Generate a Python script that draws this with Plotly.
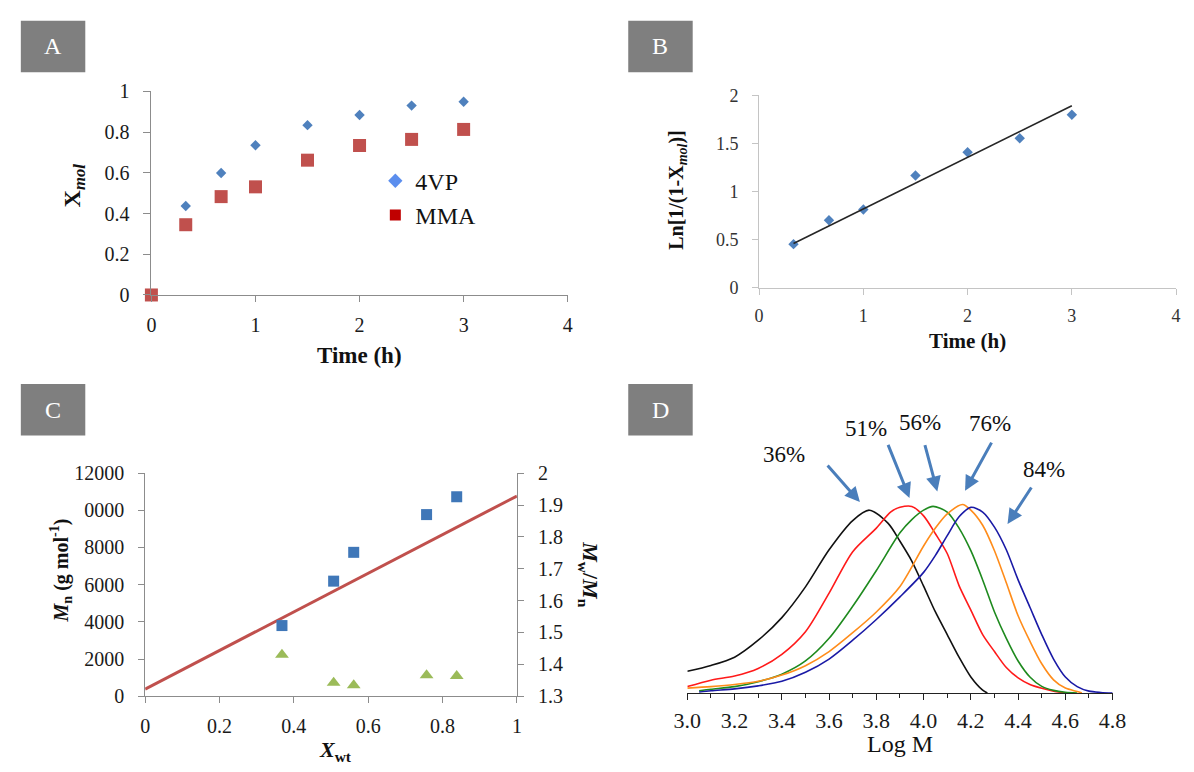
import plotly.graph_objects as go

W, H = 1194, 772
FONT = "Liberation Serif"

# ---------------- Panel A data ----------------
time_a = [0, 0.33, 0.67, 1.0, 1.5, 2.0, 2.5, 3.0]
x4vp = [0, 0.437, 0.599, 0.735, 0.834, 0.884, 0.930, 0.949]
xmma = [0, 0.345, 0.483, 0.531, 0.662, 0.734, 0.764, 0.813]

# ---------------- Panel B data ----------------
time_b = [0.33, 0.67, 1.0, 1.5, 2.0, 2.5, 3.0]
ln_b = [0.454, 0.702, 0.814, 1.166, 1.408, 1.553, 1.798]
fit_b_x = [0.33, 3.0]
fit_b_y = [0.46, 1.89]

# ---------------- Panel C data ----------------
xwt = [0.368, 0.507, 0.561, 0.757, 0.838]
mn = [3800, 6190, 7740, 9770, 10730]
pdi = [1.430, 1.342, 1.334, 1.366, 1.363]
fit_c_x = [0, 1]
fit_c_y = [380, 10770]
mn_ticks = [0, 2000, 4000, 6000, 8000, 10000, 12000]
mn_ticktext = ["0", "2000", "4000", "6000", "8000", "0000", "12000"]

# ---------------- Panel D data (GPC traces) ----------------
black_x = [3.00, 3.10, 3.20, 3.30, 3.40, 3.50, 3.60, 3.70, 3.77, 3.85, 3.90, 3.95, 4.00, 4.05, 4.10, 4.15, 4.20, 4.25, 4.27]
black_y = [0.115, 0.146, 0.19, 0.28, 0.40, 0.563, 0.76, 0.915, 0.97, 0.90, 0.805, 0.70, 0.567, 0.43, 0.31, 0.19, 0.085, 0.015, 0.0]
red_x = [3.00, 3.10, 3.20, 3.30, 3.40, 3.50, 3.60, 3.70, 3.80, 3.86, 3.90, 3.95, 4.00, 4.05, 4.10, 4.15, 4.20, 4.25, 4.30, 4.35, 4.40, 4.45, 4.50, 4.55, 4.60]
red_y = [0.034, 0.068, 0.09, 0.13, 0.205, 0.325, 0.53, 0.75, 0.875, 0.96, 0.985, 0.99, 0.94, 0.845, 0.74, 0.57, 0.44, 0.31, 0.22, 0.135, 0.08, 0.045, 0.025, 0.01, 0.0]
green_x = [3.05, 3.10, 3.20, 3.30, 3.40, 3.50, 3.60, 3.70, 3.80, 3.90, 3.95, 4.00, 4.04, 4.10, 4.15, 4.20, 4.25, 4.30, 4.35, 4.40, 4.45, 4.50, 4.55, 4.60, 4.65]
green_y = [0.012, 0.02, 0.034, 0.06, 0.10, 0.17, 0.29, 0.46, 0.65, 0.85, 0.92, 0.97, 0.99, 0.96, 0.875, 0.755, 0.60, 0.43, 0.29, 0.17, 0.085, 0.035, 0.014, 0.004, 0.0]
orange_x = [3.00, 3.10, 3.20, 3.30, 3.40, 3.50, 3.60, 3.70, 3.80, 3.90, 4.00, 4.05, 4.10, 4.165, 4.20, 4.25, 4.30, 4.35, 4.40, 4.45, 4.50, 4.55, 4.60, 4.65, 4.67]
orange_y = [0.026, 0.034, 0.045, 0.062, 0.095, 0.145, 0.22, 0.32, 0.43, 0.565, 0.78, 0.875, 0.95, 1.0, 0.97, 0.89, 0.755, 0.585, 0.41, 0.275, 0.155, 0.07, 0.026, 0.008, 0.0]
blue_x = [3.05, 3.10, 3.20, 3.30, 3.40, 3.50, 3.60, 3.70, 3.80, 3.90, 4.00, 4.05, 4.10, 4.15, 4.20, 4.25, 4.30, 4.35, 4.40, 4.45, 4.50, 4.55, 4.60, 4.65, 4.70, 4.75, 4.80]
blue_y = [0.005, 0.012, 0.022, 0.038, 0.062, 0.11, 0.18, 0.28, 0.39, 0.51, 0.64, 0.73, 0.835, 0.935, 0.985, 0.96, 0.88, 0.76, 0.60, 0.455, 0.31, 0.18, 0.085, 0.034, 0.01, 0.003, 0.0]
conv_labels = ["36%", "51%", "56%", "76%", "84%"]
logm_ticks = [3.0, 3.2, 3.4, 3.6, 3.8, 4.0, 4.2, 4.4, 4.6, 4.8]


def px(x):
    return x / W


def py(y):
    return 1 - y / H


fig = go.Figure()

# Panel A
fig.add_trace(go.Scatter(x=time_a, y=x4vp, mode="markers", showlegend=False, cliponaxis=False,
                         marker=dict(symbol="diamond", size=8, color="#4F81BD"), xaxis="x", yaxis="y"))
fig.add_trace(go.Scatter(x=time_a, y=xmma, mode="markers", showlegend=False, cliponaxis=False,
                         marker=dict(symbol="square", size=13, color="#C0504D"), xaxis="x", yaxis="y"))
fig.add_trace(go.Scatter(x=[None], y=[None], mode="markers", name="4VP",
                         marker=dict(symbol="diamond", size=11, color="#5B8EEE"), xaxis="x", yaxis="y"))
fig.add_trace(go.Scatter(x=[None], y=[None], mode="markers", name="MMA",
                         marker=dict(symbol="square", size=11, color="#C00000"), xaxis="x", yaxis="y"))

# Panel B
fig.add_trace(go.Scatter(x=time_b, y=ln_b, mode="markers", showlegend=False, cliponaxis=False,
                         marker=dict(symbol="diamond", size=8, color="#4F81BD"), xaxis="x2", yaxis="y2"))
fig.add_trace(go.Scatter(x=fit_b_x, y=fit_b_y, mode="lines", showlegend=False,
                         line=dict(color="#262626", width=1.6), xaxis="x2", yaxis="y2"))

# Panel C
fig.add_trace(go.Scatter(x=fit_c_x, y=fit_c_y, mode="lines", showlegend=False,
                         line=dict(color="#C0504D", width=3), xaxis="x3", yaxis="y3"))
fig.add_trace(go.Scatter(x=xwt, y=mn, mode="markers", showlegend=False, cliponaxis=False,
                         marker=dict(symbol="square", size=11, color="#3F77B8"), xaxis="x3", yaxis="y3"))
fig.add_trace(go.Scatter(x=xwt, y=pdi, mode="markers", showlegend=False, cliponaxis=False,
                         marker=dict(symbol="triangle-up", size=12, color="#9BBB59"), xaxis="x3", yaxis="y4"))

# Panel D
for xs, ys, col in [(black_x, black_y, "#111111"), (red_x, red_y, "#FF1A1A"),
                    (green_x, green_y, "#1E8A1E"), (orange_x, orange_y, "#FF8C1A"),
                    (blue_x, blue_y, "#1A1AA6")]:
    fig.add_trace(go.Scatter(x=xs, y=ys, mode="lines", showlegend=False,
                             line=dict(color=col, width=1.6, shape="spline", smoothing=0.8),
                             xaxis="x5", yaxis="y5"))

tickfont_a = dict(family=FONT, size=20, color="#1a1a1a")
gray = "#8C8C8C"

layout = dict(
    width=W, height=H, autosize=False,
    margin=dict(l=0, r=0, t=0, b=0),
    paper_bgcolor="white", plot_bgcolor="rgba(0,0,0,0)",
    font=dict(family=FONT, color="#1a1a1a"),
    # Panel A
    xaxis=dict(domain=[px(140.7), px(567)], range=[0, 4], dtick=1, showline=True, linecolor=gray,
               ticks="outside", ticklen=6, tickcolor=gray, showgrid=False, zeroline=False,
               tickfont=tickfont_a, anchor="y", ticklabelstandoff=6),
    yaxis=dict(domain=[py(292.3), py(82.7)], range=[0, 1], dtick=0.2, showline=True, linecolor=gray,
               ticks="outside", ticklen=7, tickcolor=gray, showgrid=False, zeroline=False,
               tickfont=tickfont_a, anchor="x", ticklabelstandoff=10),
    # Panel B
    xaxis2=dict(domain=[px(763), px(1190)], range=[0, 4], dtick=1, showline=True, linecolor="#C4C4C4",
                ticks="outside", ticklen=6, tickcolor="#C4C4C4", showgrid=False, zeroline=False,
                tickfont=dict(family=FONT, size=18, color="#333333"), anchor="y2", ticklabelstandoff=6),
    yaxis2=dict(domain=[py(285), py(86.7)], range=[0, 2], dtick=0.5, showline=True, linecolor="#C4C4C4",
                ticks="outside", ticklen=6, tickcolor="#C4C4C4", showgrid=False, zeroline=False,
                tickfont=dict(family=FONT, size=18, color="#333333"), anchor="x2", ticklabelstandoff=10),
    # Panel C
    xaxis3=dict(domain=[px(134.3), px(515)], range=[0, 1], dtick=0.2, showline=True, linecolor=gray,
                ticks="outside", ticklen=6, tickcolor=gray, showgrid=False, zeroline=False,
                tickfont=tickfont_a, anchor="y3", ticklabelstandoff=6, tickformat="~g"),
    yaxis3=dict(domain=[py(705.3), py(475.7)], range=[0, 12000], tickvals=mn_ticks, ticktext=mn_ticktext,
                showline=True, linecolor=gray, ticks="outside", ticklen=6, tickcolor=gray,
                showgrid=False, zeroline=False, tickfont=tickfont_a, anchor="x3", ticklabelstandoff=10),
    yaxis4=dict(overlaying="y3", side="right", range=[1.3, 2.0], dtick=0.1, showline=True,
                linecolor=gray, ticks="outside", ticklen=6, tickcolor=gray, showgrid=False,
                zeroline=False, tickfont=tickfont_a, anchor="x3", ticklabelstandoff=10),
    # Panel D
    xaxis5=dict(domain=[px(689.5), px(1125)], range=[3.0, 4.8], tickvals=logm_ticks,
                tickformat=".1f", showline=True, linecolor="#222222", linewidth=1.2,
                ticks="outside", ticklen=6, tickcolor="#222222", showgrid=False, zeroline=False,
                minor=dict(dtick=0.1, tick0=3.0, ticks="outside", ticklen=4, tickcolor="#222222"),
                tickfont=dict(family=FONT, size=22, color="#1a1a1a"), anchor="y5", ticklabelstandoff=2),
    yaxis5=dict(domain=[py(702), py(410)], range=[0, (702 - 410) / 194.0], visible=False,
                anchor="x5"),
    showlegend=True,
    legend=dict(x=px(370), y=py(152), xanchor="left", yanchor="top", bgcolor="rgba(0,0,0,0)",
                font=dict(family=FONT, size=24, color="#111111"), tracegroupgap=0,
                itemsizing="trace"),
)
fig.update_layout(**layout)

# Panel letter boxes
shapes = []
annotations = []
for letter, (x0, y0, x1, y1) in [("A", (7, 10, 73, 63)), ("B", (629, 10, 695, 63)),
                                  ("C", (7, 384, 73, 437)), ("D", (629, 384, 695, 437))]:
    shapes.append(dict(type="rect", xref="paper", yref="paper", x0=px(x0), x1=px(x1), y0=py(y1), y1=py(y0),
                       fillcolor="#7F7F7F", line=dict(width=0), layer="above"))
    annotations.append(dict(text=letter, xref="paper", yref="paper", x=px((x0 + x1) / 2), y=py((y0 + y1) / 2),
                            showarrow=False, font=dict(family=FONT, size=24, color="white"),
                            xanchor="center", yanchor="middle"))


def label(text, x, y, size, angle=0, color="#111111"):
    annotations.append(dict(text=text, xref="paper", yref="paper", x=px(x), y=py(y), showarrow=False,
                            textangle=angle, xanchor="center", yanchor="middle",
                            font=dict(family=FONT, size=size, color=color)))


# Axis titles
label("<b>Time (h)</b>", 354, 355, 23)
label("<b>X<sub><i>mol</i></sub></b>", 61, 180, 24, -90)
label("<b>Time (h)</b>", 976, 340, 21)
label("<b>Ln[1/(1-X<sub><i>mol</i></sub>)]</b>", 680, 184, 20, -90)
label("<b><i>M</i><sub>n</sub> (g mol<sup>-1</sup>)</b>", 48, 576, 20, -90)
label("<b><i>M</i><sub>w</sub>/<i>M</i><sub>n</sub></b>", 588, 580, 22, 90)
label("<b><i>X</i><sub>wt</sub></b>", 329, 762, 22)
label("Log M", 907, 754, 24)

# Conversion labels and arrows (panel D)
label_pos = [(789, 456), (872, 430), (928, 424), (999, 425), (1055, 472)]
arrows = [((832.6, 467.5), (866.2, 505.5)), ((895, 446.7), (917, 501.2)),
          ((932.7, 446.7), (945.5, 494.5)), ((1001.2, 444.2), (973.9, 493.8)),
          ((1042.2, 490), (1017.4, 528))]
for txt, (lx, ly) in zip(conv_labels, label_pos):
    label(txt, lx, ly, 23)
for (tx, ty), (hx, hy) in arrows:
    annotations.append(dict(text="", xref="paper", yref="paper", x=px(hx), y=py(hy),
                            ax=tx - hx, ay=ty - hy, axref="pixel", ayref="pixel", showarrow=True,
                            arrowhead=2, arrowsize=1, arrowwidth=3, arrowcolor="#4A7EBB", standoff=0))

fig.update_layout(shapes=shapes, annotations=annotations)
fig.write_html("out.html", config={"responsive": False, "displayModeBar": False},
               post_script="document.body.style.margin='0px';document.body.style.overflow='hidden';")
